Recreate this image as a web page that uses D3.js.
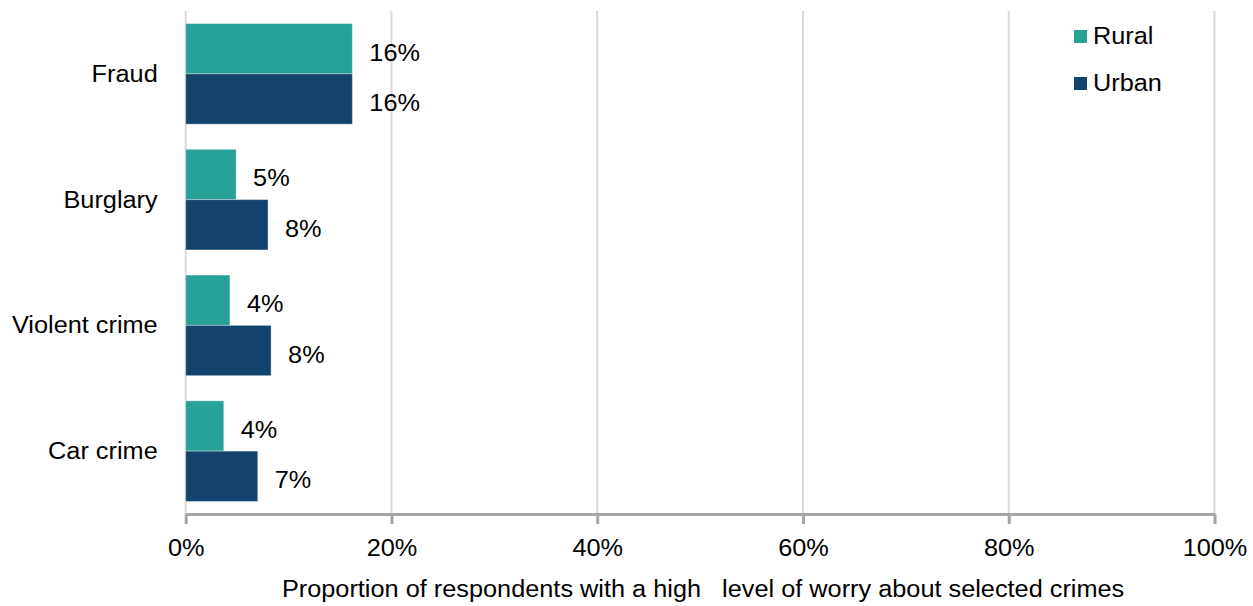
<!DOCTYPE html>
<html>
<head>
<meta charset="utf-8">
<script src="https://cdn.jsdelivr.net/npm/d3@7"></script>
<style>
  html, body { margin: 0; padding: 0; background: #fff; }
  svg { display: block; font-family: "Liberation Sans", Arial, sans-serif; }
  text { fill: #000; }
</style>
</head>
<body>
<svg id="chart" width="1253" height="606"></svg>
<script>
const categories = ["Fraud", "Burglary", "Violent crime", "Car crime"];
const seriesNames = ["Rural", "Urban"];
const ruralValues = [16.2, 4.9, 4.3, 3.7];
const urbanValues = [16.2, 8.0, 8.3, 7.0];
const valueLabelsRural = ["16%", "5%", "4%", "4%"];
const valueLabelsUrban = ["16%", "8%", "8%", "7%"];
const tickValues = [0, 20, 40, 60, 80, 100];
const tickLabels = ["0%", "20%", "40%", "60%", "80%", "100%"];
const xTitle = "Proportion of respondents with a high   level of worry about selected crimes";
const colors = { Rural: "#28A197", Urban: "#12436D" };

const W = 1253, H = 606;
const margin = { top: 11, right: 38.5, bottom: 92, left: 185.7 };
const FS = 23, SX = 1.1;

const svg = d3.select("#chart");
const g = svg.append("g").attr("transform", `translate(${margin.left},${margin.top})`);
const iw = W - margin.left - margin.right;
const ih = H - margin.top - margin.bottom;

const x = d3.scaleLinear().domain([0, 100]).range([0, iw]);
const y = d3.scaleBand().domain(categories).range([0, ih]).paddingInner(0.2).paddingOuter(0.1);
const ySub = d3.scaleBand().domain(seriesNames).range([0, y.bandwidth()]);

function stretch(sel) {
  sel.each(function () {
    const w = this.getComputedTextLength();
    this.setAttribute("textLength", w * SX);
    this.setAttribute("lengthAdjust", "spacingAndGlyphs");
  });
}

// gridlines
g.append("g").selectAll("line").data(tickValues).join("line")
  .attr("x1", d => x(d)).attr("x2", d => x(d))
  .attr("y1", 0).attr("y2", ih)
  .attr("stroke", "#d9d9d9").attr("stroke-width", 2);

// bars
const data = categories.map((c, i) => ({ cat: c, Rural: ruralValues[i], Urban: urbanValues[i], lR: valueLabelsRural[i], lU: valueLabelsUrban[i] }));
const groups = g.append("g").selectAll("g").data(data).join("g")
  .attr("transform", d => `translate(0,${y(d.cat)})`);

seriesNames.forEach(s => {
  groups.append("rect")
    .attr("x", x(0))
    .attr("y", ySub(s))
    .attr("width", d => x(d[s]) - x(0))
    .attr("height", ySub.bandwidth())
    .attr("fill", colors[s])
    .attr("stroke", "rgba(255,255,255,0.35)")
    .attr("stroke-width", 1);
  groups.append("text")
    .attr("x", d => x(d[s]) + 17)
    .attr("y", ySub(s) + ySub.bandwidth() / 2 + 12)
    .attr("font-size", FS)
    .text(d => s === "Rural" ? d.lR : d.lU)
    .call(stretch);
});

// x axis
const xAxis = d3.axisBottom(x).tickValues(tickValues).tickFormat((d, i) => tickLabels[i]).tickSize(10).tickSizeOuter(0);
const ax = g.append("g").attr("transform", `translate(0,${ih})`).call(xAxis);
ax.select(".domain").attr("stroke", "#a6a6a6").attr("stroke-width", 3);
ax.selectAll(".tick line").attr("stroke", "#a6a6a6").attr("stroke-width", 3);
ax.selectAll(".tick text")
  .attr("font-size", FS).attr("font-family", "Liberation Sans, Arial, sans-serif")
  .attr("fill", "#000").attr("dy", null).attr("y", 42)
  .call(stretch);

// y axis labels
const yAxis = d3.axisLeft(y).tickSize(0).tickPadding(28);
const ay = g.append("g").call(yAxis);
ay.select(".domain").remove();
ay.selectAll(".tick text")
  .attr("font-size", FS).attr("font-family", "Liberation Sans, Arial, sans-serif")
  .attr("fill", "#000").attr("dy", "0.35em")
  .call(stretch);

// x title
svg.append("text")
  .attr("x", margin.left + iw / 2 + 3)
  .attr("y", 597)
  .attr("text-anchor", "middle")
  .attr("font-size", FS)
  .style("white-space", "pre")
  .text(xTitle)
  .call(stretch);

// legend
const legend = svg.append("g").attr("transform", "translate(1074,30)");
seriesNames.forEach((s, i) => {
  const lg = legend.append("g").attr("transform", `translate(0,${i * 47})`);
  lg.append("rect").attr("width", 13).attr("height", 13).attr("fill", colors[s]);
  lg.append("text").attr("x", 19).attr("y", 14).attr("font-size", FS).text(s).call(stretch);
});
</script>
</body>
</html>
